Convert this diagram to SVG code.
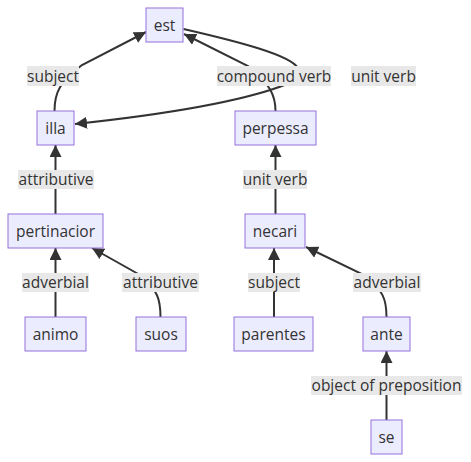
<svg xmlns="http://www.w3.org/2000/svg" width="471" height="462" viewBox="0 0 471 462">
<style>
.node rect{fill:#ECECFF;stroke:#9370DB;stroke-width:1px}
.node text{font-family:"Open Sans","Liberation Sans",sans-serif;font-size:15.5px;fill:#333;text-anchor:middle}
.edges path{fill:none;stroke:#333;stroke-width:2px}
.lbl rect{fill:#e8e8e8}
.lbl text{font-family:"Open Sans","Liberation Sans",sans-serif;font-size:15.5px;fill:#333;text-anchor:middle}
</style>
<defs>
<marker id="arr" viewBox="0 0 10 10" refX="10" refY="5" markerUnits="userSpaceOnUse" markerWidth="12" markerHeight="12" orient="auto">
<path d="M0,0 L10,5 L0,10 z" fill="#333"/>
</marker>
</defs>
<rect width="471" height="462" fill="#fff"/>
<g class="edges">
<path d="M54.5,111 C54.5,92 60,82 82,65 L146,32" marker-end="url(#arr)"/>
<path d="M275.5,111 C275.5,95 270,84 248,66 L184,34" marker-end="url(#arr)"/>
<path d="M183.5,29 C240,42 290,55 298,68 C300,75 290,84 282,86 C230,105 150,116 75,124" marker-end="url(#arr)"/>
<path d="M55.5,214 L55.5,145" marker-end="url(#arr)"/>
<path d="M275.5,214 L275.5,145" marker-end="url(#arr)"/>
<path d="M55.5,317 L55.5,248" marker-end="url(#arr)"/>
<path d="M160.5,317 C160.5,300 158,290 140,275 L92,248" marker-end="url(#arr)"/>
<path d="M274,317 L274,248" marker-end="url(#arr)"/>
<path d="M386.5,317 C386.5,300 384,290 362,274 L306,247" marker-end="url(#arr)"/>
<path d="M386.5,420 L386.5,351" marker-end="url(#arr)"/>
</g>
<g class="lbl">
<rect x="27" y="66" width="52" height="20"/><text x="53" y="81.5">subject</text>
<rect x="217" y="66" width="114" height="20"/><text x="274" y="81.5">compound verb</text>
<rect x="351" y="66" width="65" height="20"/><text x="383.5" y="81.5">unit verb</text>
<rect x="18" y="170" width="76" height="19"/><text x="56" y="185">attributive</text>
<rect x="243" y="170" width="64" height="19"/><text x="275" y="185">unit verb</text>
<rect x="22" y="273" width="67" height="19"/><text x="55.5" y="288">adverbial</text>
<rect x="122" y="273" width="77" height="19"/><text x="160.5" y="288">attributive</text>
<rect x="248" y="273" width="52" height="19"/><text x="274" y="288">subject</text>
<rect x="353" y="273" width="68" height="19"/><text x="387" y="288">adverbial</text>
<rect x="311" y="376" width="151" height="19"/><text x="386.5" y="391">object of preposition</text>
</g>
<g id="est" class="node"><rect x="146" y="8" width="37" height="34"/><text x="164.5" y="30.5">est</text></g>
<g id="illa" class="node"><rect x="37" y="111" width="37" height="34"/><text x="55.5" y="133.5">illa</text></g>
<g id="perpessa" class="node"><rect x="235" y="111" width="81" height="34"/><text x="275.5" y="133.5">perpessa</text></g>
<g id="pertinacior" class="node"><rect x="8" y="214" width="95" height="34"/><text x="55.5" y="236.5">pertinacior</text></g>
<g id="necari" class="node"><rect x="245" y="214" width="60" height="34"/><text x="275" y="236.5">necari</text></g>
<g id="animo" class="node"><rect x="25" y="317" width="61" height="34"/><text x="55.5" y="339.5">animo</text></g>
<g id="suos" class="node"><rect x="136" y="317" width="50" height="34"/><text x="161" y="339.5">suos</text></g>
<g id="parentes" class="node"><rect x="234" y="317" width="79" height="34"/><text x="273.5" y="339.5">parentes</text></g>
<g id="ante" class="node"><rect x="363" y="317" width="47" height="34"/><text x="386.5" y="339.5">ante</text></g>
<g id="se" class="node"><rect x="371" y="420" width="31" height="34"/><text x="386.5" y="442.5">se</text></g>
</svg>
